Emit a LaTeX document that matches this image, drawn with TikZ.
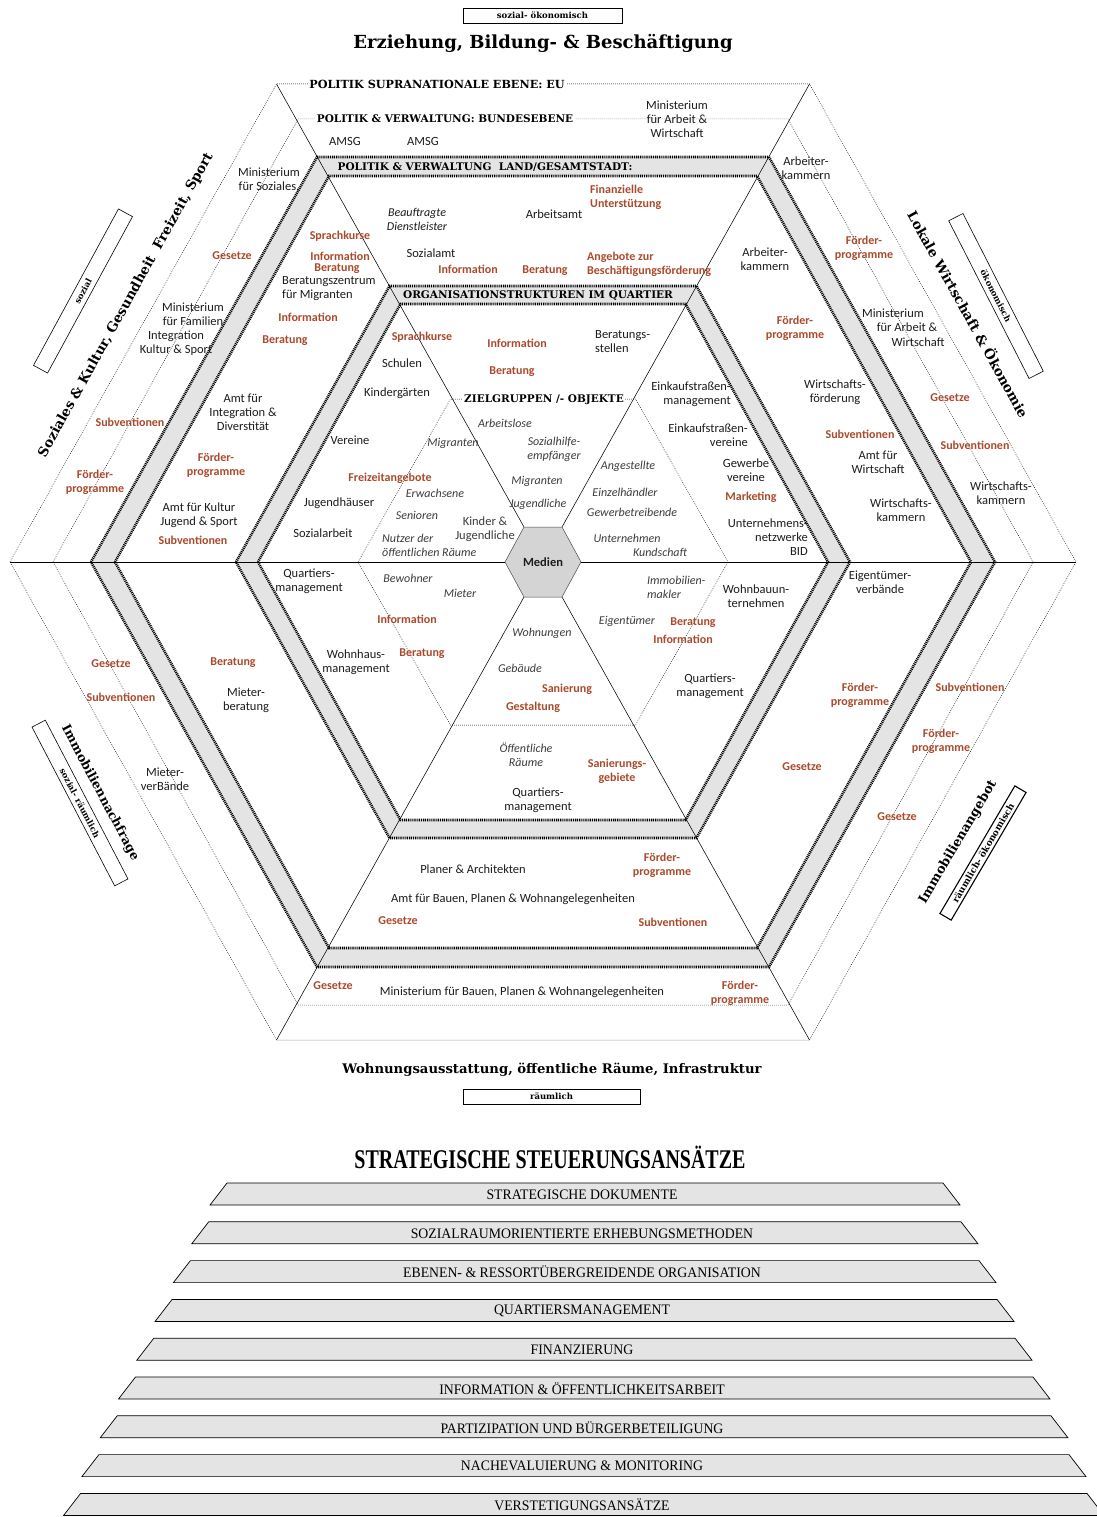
\documentclass[tikz,border=0pt]{standalone}
\usepackage{fontspec}
\setmainfont{Carlito}
\newfontfamily\hfont{DejaVu Serif}
\newfontfamily\cfont{Liberation Serif}

\definecolor{rust}{RGB}{170,74,44}
\definecolor{bandgrey}{RGB}{228,228,228}
\definecolor{medgrey}{RGB}{212,212,212}
\definecolor{txt}{RGB}{28,28,28}
\definecolor{itx}{RGB}{60,60,60}

% flat-topped hexagon around the centre (543,562): half width #1, half height #2
\newcommand\hexp[2]{({543-#1},562) -- ({543-#1/2},{562-#2}) -- ({543+#1/2},{562-#2}) -- ({543+#1},562) -- ({543+#1/2},{562+#2}) -- ({543-#1/2},{562+#2}) -- cycle}
% text helpers: institution, instrument, target group
\newcommand\inode[4][]{\node[inst,#1] (#2) at (#3) {#4};}
\newcommand\rinode[4][]{\node[ins,#1] (#2) at (#3) {#4};}
\newcommand\gnode[4][]{\node[grp,#1] (#2) at (#3) {#4};}

\begin{document}
\begin{tikzpicture}[x=1pt,y=-1pt,
  inst/.style={font=\fontsize{12.5}{14}\selectfont, text=txt, align=center, inner sep=0pt},
  ins/.style={font=\bfseries\fontsize{12}{14}\selectfont, text=rust, align=center, inner sep=0pt},
  grp/.style={font=\itshape\fontsize{12}{14}\selectfont, text=itx, align=center, inner sep=0pt},
  lvl/.style={font=\hfont\bfseries\fontsize{10.5}{12}\selectfont, inner sep=1.5pt},
  side/.style={font=\hfont\bfseries\fontsize{13.5}{16}\selectfont, inner sep=0pt},
  tag/.style={draw, line width=0.6pt, font=\hfont\bfseries\fontsize{8.5}{10}\selectfont, inner sep=0pt},
  ring/.style={line width=0.5pt, dash pattern=on 0.7pt off 1.3pt},
  band/.style={line width=2.6pt, dash pattern=on 1pt off 0.9pt},
  spoke/.style={line width=0.55pt},
  bar/.style={draw, line width=0.7pt, fill=bandgrey},
  bartxt/.style={font=\cfont\fontsize{14.5}{16}\selectfont, xscale=0.95, inner sep=0pt},
]
\useasboundingbox (0,0) rectangle (1096,1517);
\fill[white] (0,0) rectangle (1096,1517);

% corner points of the outer hexagon and of the central hexagon
\coordinate (o1) at (10,562);
\coordinate (o2) at (276.5,84);
\coordinate (o3) at (809.5,84);
\coordinate (o4) at (1076,562);
\coordinate (o5) at (809.5,1040);
\coordinate (o6) at (276.5,1040);
\coordinate (m1) at (505,562);
\coordinate (m2) at (524,527);
\coordinate (m3) at (562,527);
\coordinate (m4) at (581,562);
\coordinate (m5) at (562,597);
\coordinate (m6) at (524,597);

% grey bands
\fill[bandgrey, even odd rule] \hexp{452}{405} \hexp{428}{386};
\fill[bandgrey, even odd rule] \hexp{307}{276} \hexp{285}{258};

% EU and federal rings
\draw[ring] \hexp{533}{478};
\draw[ring] \hexp{490}{443};

% sector lines
\foreach \k in {1,...,6} \draw[spoke] (o\k) -- (m\k);

% band borders
\draw[band] \hexp{452}{405};
\draw[band] \hexp{428}{386};
\draw[band] \hexp{307}{276};
\draw[band] \hexp{285}{258};

% target group hexagon
\draw[ring] \hexp{185}{163};

% media core
\filldraw[fill=medgrey, draw=black!70, line width=0.5pt] \hexp{38}{35};
\node[font=\bfseries\fontsize{12.5}{14}\selectfont, text=txt] (medien) at (543,562) {Medien};

% level labels
\node[lvl, fill=white, font=\hfont\bfseries\fontsize{11.2}{12}\selectfont] (eu) at (437,84) {POLITIK SUPRANATIONALE EBENE: EU};
\node[lvl, fill=white] (bund) at (445,119) {POLITIK \& VERWALTUNG: BUNDESEBENE};
\node[lvl, anchor=west] (land) at (336,167) {POLITIK \& VERWALTUNG\ \ LAND/GESAMTSTADT:};
\node[lvl] (quart) at (538,295.5) {ORGANISATIONSTRUKTUREN IM QUARTIER};
\node[lvl, fill=white] (ziel) at (544,400) {ZIELGRUPPEN /- OBJEKTE};

% headings and tags
\node[tag, minimum width=159pt, minimum height=15pt] (tagtop) at (542.5,15.5) {sozial- ökonomisch};
\node[font=\hfont\bfseries\fontsize{18}{20}\selectfont, inner sep=0pt] (hdtop) at (543,43) {Erziehung, Bildung- \& Beschäftigung};
\node[font=\hfont\bfseries\fontsize{13.2}{16}\selectfont, inner sep=0pt] (hdbot) at (552,1070) {Wohnungsausstattung, öffentliche Räume, Infrastruktur};
\node[tag, minimum width=177pt, minimum height=15pt] (tagbot) at (551.5,1096.5) {räumlich};

\node[side, rotate=61] (lsoz) at (126,305) {Soziales \& Kultur, Gesundheit\ \ Freizeit, Sport};
\node[tag, rotate=61.5, minimum width=178pt, minimum height=16pt] (tagsoz) at (83,291) {sozial};
\node[side, rotate=-61] (llok) at (969,314) {Lokale Wirtschaft \& Ökonomie};
\node[tag, rotate=-63, minimum width=177pt, minimum height=16pt] (tagoek) at (996,296) {ökonomisch};
\node[side, rotate=-62, font=\hfont\bfseries\fontsize{12.5}{16}\selectfont] (limn) at (100,793) {Immobiliennachfrage};
\node[tag, rotate=-62.5, minimum width=179pt, minimum height=15pt] (tagsr) at (80,803) {sozial- räumlich};
\node[side, rotate=59.5, font=\hfont\bfseries\fontsize{12.8}{16}\selectfont] (lima) at (958,842) {Immobilienangebot};
\node[tag, rotate=59.6, minimum width=148pt, minimum height=13pt, line width=1.1pt, font=\hfont\bfseries\fontsize{9}{10}\selectfont] (tagro) at (983,853) {räumlich- ökonomisch};

% federal level
\inode{amsg1}{345,141}{AMSG}
\inode{amsg2}{423,141}{AMSG}
\inode{minaw}{677,119.5}{Ministerium\\für Arbeit \&\\Wirtschaft}

% top sector, city level
\gnode[text=txt]{beauf}{417,219}{Beauftragte\\Dienstleister}
\inode{arbamt}{554,214}{Arbeitsamt}
\rinode[anchor=west, align=left]{finanz}{590,197.5}{Finanzielle\\Unterstützung}
\inode{sozamt}{431,253}{Sozialamt}
\rinode{infoA}{468,269}{Information}
\rinode{berA}{545,271}{Beratung}
\rinode[anchor=west, align=left]{angeb}{587,264.5}{Angebote zur\\Beschäftigungsförderung}

% upper left, city level
\rinode{sprA}{340,236}{Sprachkurse}
\rinode{infoB}{340,256}{Information}
\rinode{berB}{337,269}{Beratung}
\inode[anchor=west, align=left]{bzm}{282,289}{Beratungszentrum\\für Migranten}
\rinode{infoC}{308,317}{Information}
\rinode{berC}{285,341}{Beratung}
\inode{aid}{243,412}{Amt für\\Integration \&\\Diverstität}
\rinode{foeA}{216,465.5}{Förder-\\programme}
\inode{akjs}{199,515.5}{Amt für Kultur\\Jugend \& Sport}
\rinode{subA}{193,540}{Subventionen}

% upper left, outer rings
\inode{minsoz}{269,180}{Ministerium\\für Soziales,}
\rinode{gesA}{232,256}{Gesetze}
\inode{minfamA}{193,314.5}{Ministerium\\für Familien}
\inode{minfamB}{176,343.5}{Integration\\Kultur \& Sport}
\rinode{subB}{130,422.5}{Subventionen}
\rinode{foeB}{95,482.5}{Förder-\\programme}

% upper right, outer rings and city level
\inode{akA}{806,168.5}{Arbeiter-\\kammern}
\inode{akB}{765,259}{Arbeiter-\\kammern}
\rinode{foeC}{864,248.5}{Förder-\\programme}
\rinode{foeD}{795,328.5}{Förder-\\programme}
\inode{mawA}{893,313}{Ministerium}
\inode{mawB}{907,327.5}{für Arbeit \&}
\inode{mawC}{918,342}{Wirtschaft}
\inode{wfoe}{835,392.5}{Wirtschafts-\\förderung}
\rinode{subC}{860,434}{Subventionen}
\inode{afw}{878,462.5}{Amt für\\Wirtschaft}
\inode{wkA}{901,510.5}{Wirtschafts-\\kammern}
\rinode{gesB}{950,398}{Gesetze}
\rinode{subD}{975,445}{Subventionen}
\inode{wkB}{1001,493.5}{Wirtschafts-\\kammern}

% neighbourhood level, upper half
\inode[anchor=west, align=left]{berst}{595,341.5}{Beratungs-\\stellen}
\inode[anchor=east, align=right]{ekm}{731,394}{Einkaufstraßen-\\management}
\inode[anchor=east, align=right]{ekv}{748,435}{Einkaufstraßen-\\vereine}
\inode{gwv}{746,470}{Gewerbe\\vereine}
\rinode{mark}{751,497}{Marketing}
\inode[anchor=east, align=right]{unw}{808,537}{Unternehmens-\\netzwerke\\BID}
\rinode{sprB}{422,337}{Sprachkurse}
\rinode{infoD}{517,343}{Information}
\rinode{berD}{512,372}{Beratung}
\inode{schul}{402,363}{Schulen}
\inode{kiga}{397,393}{Kindergärten}
\inode{verein}{350,440}{Vereine}
\rinode{freiz}{390,478}{Freizeitangebote}
\inode{jugh}{339,503}{Jugendhäuser}
\inode{sozarb}{323,533}{Sozialarbeit}

% target groups
\gnode{migA}{453,443}{Migranten}
\gnode{erw}{435,493}{Erwachsene}
\gnode{sen}{417,515}{Senioren}
\inode[text=itx]{kij}{485,529}{Kinder \&\\Jugendliche}
\gnode[anchor=west, align=left]{nutz}{382,545}{Nutzer der\\öffentlichen Räume}
\gnode{alos}{505,423}{Arbeitslose}
\gnode{shil}{554,449}{Sozialhilfe-\\empfänger}
\gnode{migB}{537,481}{Migranten}
\gnode{jug}{538,504}{Jugendliche}
\gnode{anges}{628,466}{Angestellte}
\gnode{ezh}{625,492}{Einzelhändler}
\gnode{gwt}{632,512}{Gewerbetreibende}
\gnode{untn}{627,538}{Unternehmen}
\gnode{kund}{660,552}{Kundschaft}
\gnode{bew}{408,578}{Bewohner}
\gnode{miet}{460,593}{Mieter}
\rinode{infoE}{407,619}{Information}
\rinode{berE}{422,654}{Beratung}
\gnode[anchor=west, align=left]{immk}{647,587}{Immobilien-\\makler}
\gnode{eig}{627,621}{Eigentümer}
\rinode{berF}{693,623}{Beratung}
\rinode{infoF}{683,639}{Information}
\gnode{wohn}{542,633}{Wohnungen}
\gnode{geb}{520,668}{Gebäude}
\rinode{san}{567,689}{Sanierung}
\rinode{gest}{533,707}{Gestaltung}
\gnode{oeff}{526,755}{Öffentliche\\Räume}
\rinode{sang}{617,771.5}{Sanierungs-\\gebiete}
\inode{qmA}{538,800}{Quartiers-\\management}

% lower half, neighbourhood and city level
\inode{qmB}{309,581}{Quartiers-\\management}
\inode{whm}{356,662.5}{Wohnhaus-\\management}
\inode{wbu}{756,596}{Wohnbauun-\\ternehmen}
\inode{qmC}{710,686}{Quartiers-\\management}
\inode{eigv}{880,582}{Eigentümer-\\verbände}
\rinode{foeE}{860,695.5}{Förder-\\programme}
\rinode{gesC}{802,767}{Gesetze}
\rinode{berG}{233,663}{Beratung}
\inode{mber}{246,700}{Mieter-\\beratung}
\rinode{gesD}{111,664}{Gesetze}
\rinode{subE}{121,697}{Subventionen}
\inode{mverb}{165,779.5}{Mieter-\\verBände}
\rinode{subF}{970,687}{Subventionen}
\rinode{foeF}{941,741.5}{Förder-\\programme}
\rinode{gesE}{897,817}{Gesetze}
\inode{plan}{473,869}{Planer \& Architekten}
\rinode{foeG}{662,865.5}{Förder-\\programme}
\inode{abpw}{513,899}{Amt für Bauen, Planen \& Wohnangelegenheiten}
\rinode{gesF}{398,921}{Gesetze}
\rinode{subG}{673,922}{Subventionen}
\rinode{gesG}{333,986}{Gesetze}
\inode{mbpw}{522,992}{Ministerium für Bauen, Planen \& Wohnangelegenheiten}
\rinode{foeH}{740,993.5}{Förder-\\programme}

% strategic approaches
\node[font=\cfont\bfseries\fontsize{27}{30}\selectfont, xscale=0.74, inner sep=0pt] (strat) at (550,1157) {STRATEGISCHE STEUERUNGSANSÄTZE};
\foreach \txt [count=\i from 0] in {STRATEGISCHE DOKUMENTE, SOZIALRAUMORIENTIERTE ERHEBUNGSMETHODEN, EBENEN- \& RESSORTÜBERGREIDENDE ORGANISATION, QUARTIERSMANAGEMENT, FINANZIERUNG, INFORMATION \& ÖFFENTLICHKEITSARBEIT, PARTIZIPATION UND BÜRGERBETEILIGUNG, NACHEVALUIERUNG \& MONITORING, VERSTETIGUNGSANSÄTZE}{
  \pgfmathsetmacro\yt{1183+38.8*\i}
  \pgfmathsetmacro\yb{\yt+22}
  \pgfmathsetmacro\lt{227-18.3*\i}
  \pgfmathsetmacro\rt{943+18*\i}
  \draw[bar] (\lt,\yt) -- (\rt,\yt) -- ({\rt+17},\yb) -- ({\lt-17},\yb) -- cycle;
  \node[bartxt] (bar\i) at (582,{\yt+11.5}) {\txt};
}
\end{tikzpicture}
\end{document}
